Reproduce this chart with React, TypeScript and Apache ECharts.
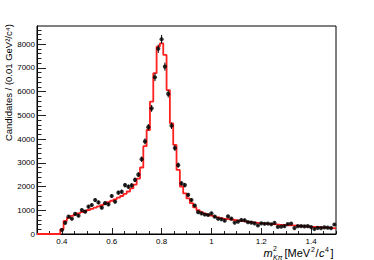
import React, { useEffect, useRef } from "react";
import * as echarts from "echarts";

// Histogram binning
const X_MIN = 0.3;
const X_MAX = 1.5;
const N_BINS = 90;
const BIN_WIDTH = (X_MAX - X_MIN) / N_BINS;
const Y_MAX = 8758;

// Tick labels
const xMajorTicks = [0.4, 0.6, 0.8, 1.0, 1.2, 1.4];
const xMinorTicks = [0.35, 0.45, 0.5, 0.55, 0.65, 0.7, 0.75, 0.85, 0.9, 0.95, 1.05, 1.1, 1.15, 1.25, 1.3, 1.35, 1.45, 1.5];
const yMajorTicks = [0, 1000, 2000, 3000, 4000, 5000, 6000, 7000, 8000];
const yMinorTicks = [
  200, 400, 600, 800, 1200, 1400, 1600, 1800, 2200, 2400, 2600, 2800, 3200, 3400, 3600, 3800,
  4200, 4400, 4600, 4800, 5200, 5400, 5600, 5800, 6200, 6400, 6600, 6800, 7200, 7400, 7600, 7800,
  8200, 8400, 8600,
];

// Data counts per bin (0 = empty bin)
const counts = [
  0, 0, 0, 0, 0, 0, 0,
  170, 470, 730, 640, 850, 770, 1010, 940, 1150, 1220,
  1430, 1330, 1110, 1300, 1250, 1600, 1360, 1740, 1780, 2060,
  1990, 2050, 2280, 2500, 3150, 3900, 4500, 5290, 6600, 7800,
  8200, 7050, 5900, 4560, 3620, 2900, 2130, 2060, 1650, 1430,
  1200, 920, 870, 820, 800, 870, 730, 640, 620, 560,
  740, 650, 480, 520, 590, 580, 500, 480, 450, 360,
  450, 430, 440, 410, 470, 300, 310, 330, 420, 440,
  250, 330, 330, 320, 330, 290, 210, 260, 250, 280,
  270, 250, 400,
];

// Fit model per bin
const fit = [
  0, 0, 0, 0, 0, 0, 0,
  200, 550, 680, 760, 820, 870, 920, 970, 1010, 1060,
  1110, 1160, 1220, 1280, 1340, 1400, 1460, 1530, 1600, 1690,
  1790, 1920, 2080, 2330, 2800, 3700, 4380, 5570, 6770, 7890,
  8030, 7540, 6060, 4660, 3750, 2700, 2000, 1710, 1500, 1300,
  1120, 1000, 920, 860, 810, 770, 730, 700, 670, 640,
  620, 600, 580, 560, 540, 520, 505, 490, 475, 460,
  448, 436, 425, 415, 405, 395, 386, 377, 368, 360,
  352, 344, 331, 322, 313, 304, 295, 286, 277, 268,
  259, 250, 241,
];

const ERR_SCALE = 2.0; // error bar size relative to Poisson sqrt(N)

const FONT = '"Liberation Sans", Arial, Helvetica, sans-serif';

export default function App() {
  const ref = useRef<HTMLDivElement>(null);

  useEffect(() => {
    if (!ref.current) return;
    const chart = echarts.init(ref.current, null, { renderer: "svg" });

    const centers = counts.map((_, i) => X_MIN + (i + 0.5) * BIN_WIDTH);
    const points: number[][] = [];
    const errs: number[][] = [];
    counts.forEach((c, i) => {
      if (c > 0) {
        const e = Math.sqrt(c) * ERR_SCALE;
        points.push([centers[i], c]);
        errs.push([centers[i], c - e, c + e]);
      }
    });
    const fitLine: number[][] = [];
    fit.forEach((v, i) => {
      fitLine.push([X_MIN + i * BIN_WIDTH, v]);
      fitLine.push([X_MIN + (i + 1) * BIN_WIDTH, v]);
    });

    const grid = { left: 37, right: 38, top: 26, bottom: 26 };
    const txt = (x: number, y: number, text: string, fontSize: number, italic = false) => ({
      type: "text",
      x,
      y,
      style: {
        text,
        fontSize,
        fontStyle: italic ? "italic" : "normal",
        fontFamily: FONT,
        fill: "#000",
        align: "left",
        verticalAlign: "middle",
      },
    });

    const option: any = {
      animation: false,
      backgroundColor: "#fff",
      grid: { ...grid, outerBoundsMode: "none", containLabel: false },
      xAxis: [
        {
          type: "value",
          min: X_MIN,
          max: X_MAX,
          axisLine: { show: true, onZero: false, lineStyle: { color: "#000", width: 1 } },
          axisTick: { show: true, inside: true, length: 6, customValues: xMajorTicks, lineStyle: { color: "#222" } },
          axisLabel: {
            show: true,
            customValues: xMajorTicks,
            margin: 3,
            fontSize: 8,
            fontFamily: FONT,
            color: "#000",
            formatter: (v: number) => String(Math.round(v * 10) / 10),
          },
          splitLine: { show: false },
        },
        {
          type: "value",
          min: X_MIN,
          max: X_MAX,
          position: "bottom",
          axisLine: { show: false, onZero: false },
          axisTick: { show: true, inside: true, length: 3, customValues: xMinorTicks, lineStyle: { color: "#222" } },
          axisLabel: { show: false },
          splitLine: { show: false },
        },
      ],
      yAxis: [
        {
          type: "value",
          min: 0,
          max: Y_MAX,
          axisLine: { show: true, onZero: false, lineStyle: { color: "#000", width: 1 } },
          axisTick: { show: true, inside: true, length: 9, customValues: yMajorTicks, lineStyle: { color: "#222" } },
          axisLabel: {
            show: true,
            customValues: yMajorTicks,
            margin: 2,
            fontSize: 8,
            fontFamily: FONT,
            color: "#000",
            formatter: (v: number) => String(Math.round(v)),
          },
          splitLine: { show: false },
        },
        {
          type: "value",
          min: 0,
          max: Y_MAX,
          position: "left",
          axisLine: { show: false, onZero: false },
          axisTick: { show: true, inside: true, length: 4.5, customValues: yMinorTicks, lineStyle: { color: "#222" } },
          axisLabel: { show: false },
          splitLine: { show: false },
        },
      ],
      series: [
        {
          type: "line",
          data: fitLine,
          xAxisIndex: 0,
          yAxisIndex: 0,
          showSymbol: false,
          symbol: "none",
          lineStyle: { color: "#ff2020", width: 1.8 },
          z: 2,
        },
        {
          type: "custom",
          xAxisIndex: 0,
          yAxisIndex: 0,
          data: errs,
          encode: { x: 0, y: [1, 2] },
          renderItem: (params: any, api: any) => {
            const x = api.value(0);
            const p1 = api.coord([x, api.value(1)]);
            const p2 = api.coord([x, api.value(2)]);
            return {
              type: "line",
              shape: { x1: p1[0], y1: p1[1], x2: p2[0], y2: p2[1] },
              style: { stroke: "#000", lineWidth: 1 },
            };
          },
          z: 3,
        },
        {
          type: "scatter",
          xAxisIndex: 0,
          yAxisIndex: 0,
          data: points,
          symbol: "circle",
          symbolSize: 4.2,
          itemStyle: { color: "#000" },
          z: 4,
        },
      ],
      graphic: [
        {
          type: "rect",
          shape: { x: 37, y: 26, width: 299, height: 208 },
          style: { fill: "none", stroke: "#000", lineWidth: 1 },
          silent: true,
          z: 1,
        },
        {
          type: "text",
          x: 8,
          y: 24,
          rotation: Math.PI / 2,
          style: {
            text: "Candidates / (0.01 GeV\u00B2/c\u2074)",
            fontSize: 9.5,
            fontFamily: FONT,
            fill: "#000",
            align: "right",
            verticalAlign: "middle",
          },
        },
        txt(263.5, 253, "m", 11, true),
        txt(273, 248.5, "2", 7),
        txt(273, 257.5, "K\u03C0", 7, true),
        txt(284.5, 253, "[MeV", 11),
        txt(311, 249, "2", 7),
        txt(315.5, 253, "/", 11),
        txt(319, 253, "c", 11, true),
        txt(325, 249, "4", 7),
        txt(330.5, 253, "]", 11),
      ],
    };

    chart.setOption(option);
    return () => chart.dispose();
  }, []);

  return (
    <div
      ref={ref}
      style={{ position: "absolute", left: 0, top: 0, width: 374, height: 260, background: "#fff" }}
    />
  );
}
